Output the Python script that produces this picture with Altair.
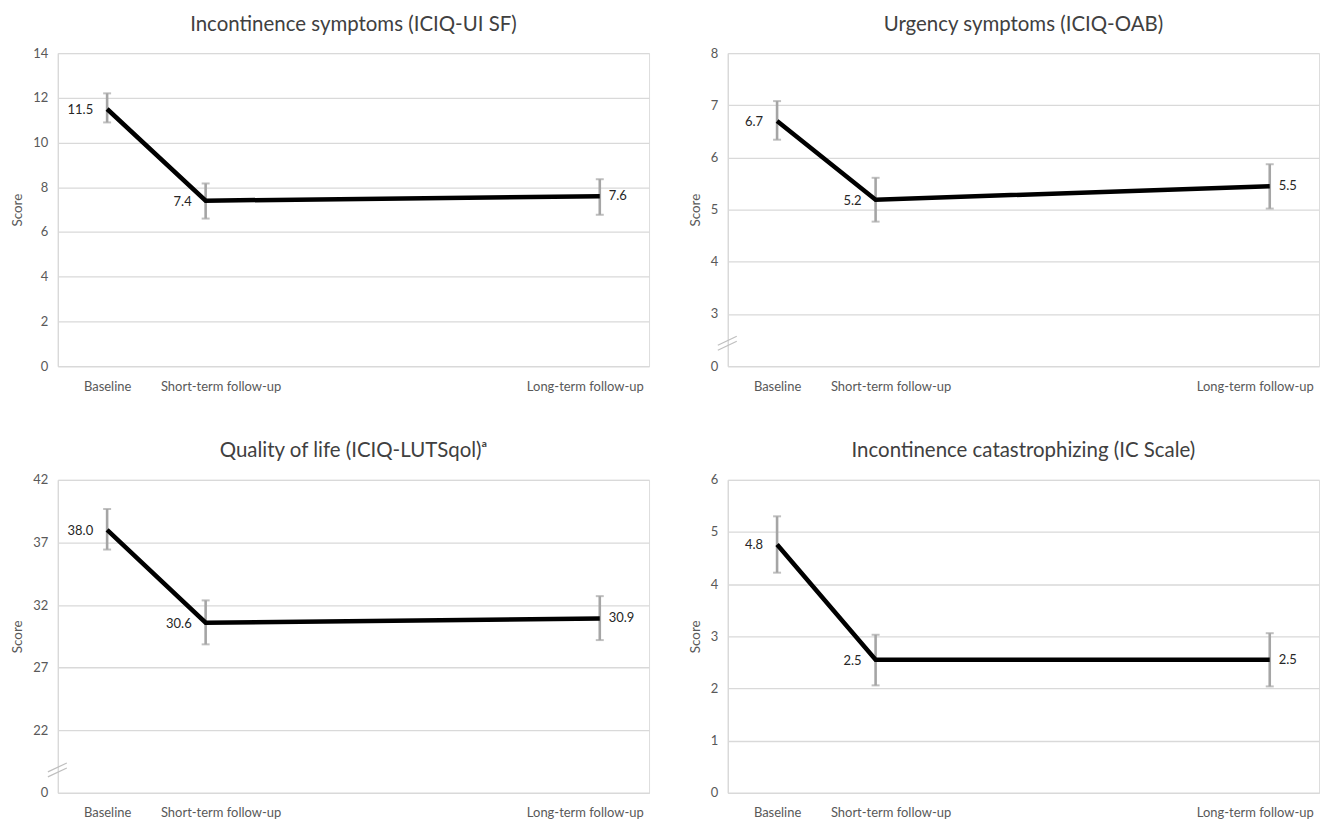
import altair as alt
import pandas as pd

# ---------------- data ----------------
stages = ["Baseline", "Short-term follow-up", "Long-term follow-up"]
stage_pos = [0, 1, 5]

title_1 = "Incontinence symptoms (ICIQ-UI SF)"
mean_1 = [11.5, 7.4, 7.6]
low_1 = [10.9, 6.6, 6.77]
high_1 = [12.2, 8.17, 8.36]
label_1 = ["11.5", "7.4", "7.6"]

title_2 = "Urgency symptoms (ICIQ-OAB)"
mean_2 = [6.7, 5.19, 5.45]
low_2 = [6.34, 4.77, 5.02]
high_2 = [7.08, 5.61, 5.87]
label_2 = ["6.7", "5.2", "5.5"]

title_3 = "Quality of life (ICIQ-LUTSqol)ᵃ"
mean_3 = [38.0, 30.59, 30.93]
low_3 = [36.43, 28.86, 29.2]
high_3 = [39.67, 32.37, 32.71]
label_3 = ["38.0", "30.6", "30.9"]

title_4 = "Incontinence catastrophizing (IC Scale)"
mean_4 = [4.76, 2.55, 2.55]
low_4 = [4.22, 2.06, 2.04]
high_4 = [5.3, 3.03, 3.06]
label_4 = ["4.8", "2.5", "2.5"]

# y-axis tick labels (shown) for each panel
yticks_1 = [0, 2, 4, 6, 8, 10, 12, 14]
yticks_2 = [0, 3, 4, 5, 6, 7, 8]
yticks_3 = [0, 22, 27, 32, 37, 42]
yticks_4 = [0, 1, 2, 3, 4, 5, 6]

FONT = "Lato"
W, H = 593, 314
GRID = "#d9d9d9"
AXIS_TXT = "#595959"
ERR = "#a5a5a5"


def panel(title, means, lows, highs, labels, yticks, broken):
    # for a broken axis the first non-zero tick is drawn one step above zero
    if broken:
        step = yticks[2] - yticks[1]
        shift = yticks[1] - step
    else:
        shift = 0
    plotted_ticks = [0] + [t - shift for t in yticks[1:]]
    dmax = plotted_ticks[-1]

    df = pd.DataFrame({
        "stage": stages, "t": stage_pos,
        "mean": means, "lo": lows, "hi": highs, "label": labels,
    })

    x_label_expr = " : ".join(
        f"datum.value == {p} ? '{s}'" for p, s in zip(stage_pos[:-1], stages[:-1])
    ) + f" : '{stages[-1]}'"

    x_enc = alt.X(
        "t:Q",
        scale=alt.Scale(domain=[-0.5, 5.5], nice=False, zero=False),
        axis=alt.Axis(
            values=stage_pos, labelExpr=x_label_expr, title=None, grid=False,
            ticks=False, tickSize=0, domain=True, domainColor=GRID, domainWidth=1.3,
            labelPadding=14, labelFontSize=13, labelColor=AXIS_TXT, labelFont=FONT,
            labelOffset={"expr": f"datum.value == {stage_pos[1]} ? 15 : datum.value == {stage_pos[2]} ? -15 : 0"},
        ),
    )

    y_label_expr = f"datum.value == 0 ? '0' : format(datum.value + {shift}, 'd')"
    y_axis = alt.Axis(
        values=plotted_ticks, labelExpr=y_label_expr, title="Score",
        grid=True, gridColor=GRID, gridWidth=1.3, ticks=False, tickSize=0,
        domain=True, domainColor=GRID, domainWidth=1.3,
        labelPadding=10, labelFontSize=13, labelColor=AXIS_TXT, labelFont=FONT,
        titleFont=FONT, titleFontSize=13.5, titleColor=AXIS_TXT, titleFontWeight="normal",
        titlePadding=8,
    )
    y_scale = alt.Scale(domain=[0, dmax], nice=False, zero=True)

    base = alt.Chart(df).transform_calculate(
        m=f"datum.mean - {shift}", l=f"datum.lo - {shift}", h=f"datum.hi - {shift}"
    )

    err = base.mark_rule(color=ERR, strokeWidth=2.6).encode(
        x=x_enc, y=alt.Y("l:Q", scale=y_scale, axis=y_axis), y2="h:Q"
    )
    cap_lo = base.mark_tick(color=ERR, orient="horizontal", size=8, thickness=2).encode(
        x=x_enc, y=alt.Y("l:Q", scale=y_scale, axis=y_axis)
    )
    cap_hi = base.mark_tick(color=ERR, orient="horizontal", size=8, thickness=2).encode(
        x=x_enc, y=alt.Y("h:Q", scale=y_scale, axis=y_axis)
    )
    line = base.mark_line(color="black", strokeWidth=4.5, strokeJoin="miter").encode(
        x=x_enc, y=alt.Y("m:Q", scale=y_scale, axis=y_axis)
    )
    txt_left = base.transform_filter(f"datum.t != {stage_pos[-1]}").mark_text(
        align="right", baseline="middle", dx=-14, dy=1, font=FONT, fontSize=13, color="#262626"
    ).encode(x=x_enc, y=alt.Y("m:Q", scale=y_scale, axis=y_axis), text="label:N")
    txt_right = base.transform_filter(f"datum.t == {stage_pos[-1]}").mark_text(
        align="left", baseline="middle", dx=9, font=FONT, fontSize=13, color="#262626"
    ).encode(x=x_enc, y=alt.Y("m:Q", scale=y_scale, axis=y_axis), text="label:N")

    layers = [err, cap_lo, cap_hi, line, txt_left, txt_right]

    if broken:
        brk = alt.Chart(pd.DataFrame({"k": [0]})).mark_rule(color="#bfbfbf", strokeWidth=1.2).encode(
            x=alt.value(-10), x2=alt.value(9),
            y=alt.value(H - 16), y2=alt.value(H - 25),
        )
        brk2 = alt.Chart(pd.DataFrame({"k": [0]})).mark_rule(color="#bfbfbf", strokeWidth=1.2).encode(
            x=alt.value(-10), x2=alt.value(9),
            y=alt.value(H - 21), y2=alt.value(H - 30),
        )
        layers += [brk, brk2]

    return alt.layer(*layers).properties(
        width=W, height=H,
        title=alt.TitleParams(
            title, font=FONT, fontSize=20.5, fontWeight="normal", color="#404040", offset=12,
            anchor="middle",
        ),
    )


p1 = panel(title_1, mean_1, low_1, high_1, label_1, yticks_1, False)
p2 = panel(title_2, mean_2, low_2, high_2, label_2, yticks_2, True)
p3 = panel(title_3, mean_3, low_3, high_3, label_3, yticks_3, True)
p4 = panel(title_4, mean_4, low_4, high_4, label_4, yticks_4, False)

chart = alt.vconcat(
    alt.hconcat(p1, p2, spacing=37),
    alt.hconcat(p3, p4, spacing=37),
    spacing=47,
).properties(
    padding={"left": 2, "top": 5, "right": 0, "bottom": 0}
).configure_view(stroke=None).configure(background="white")

chart.save("out.html", embed_options={"renderer": "svg", "actions": False})
